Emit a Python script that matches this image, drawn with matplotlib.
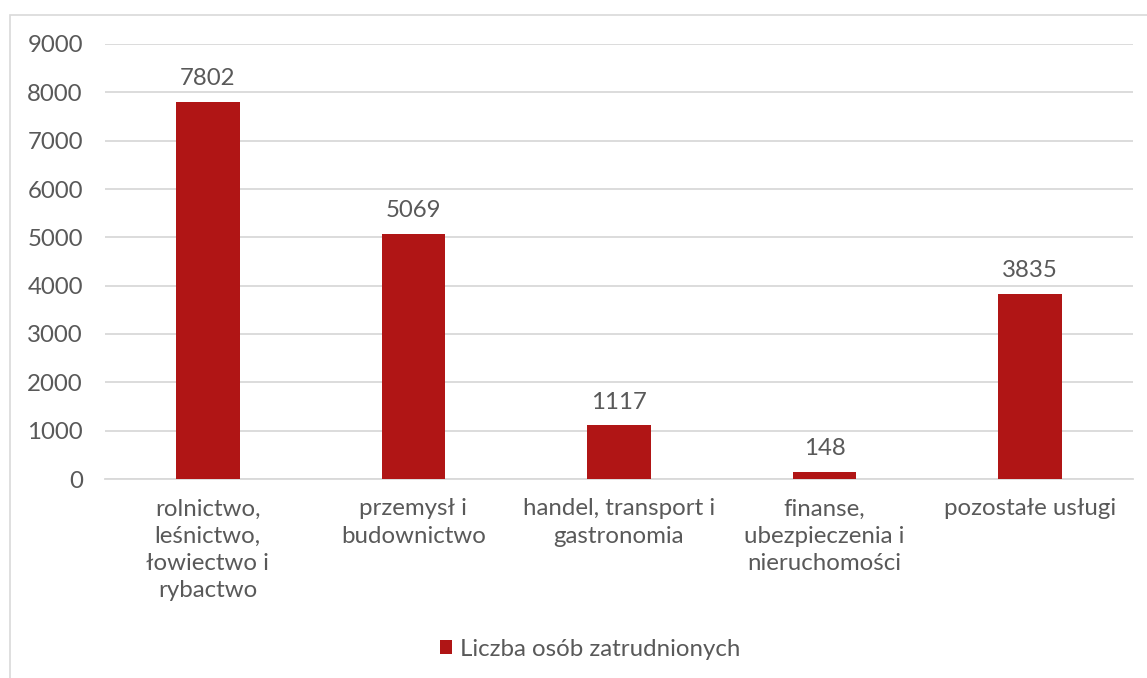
import matplotlib.pyplot as plt
from matplotlib.patches import Rectangle

plt.rcParams['font.family'] = ['Lato', 'DejaVu Sans']

categories = ['rolnictwo,\nleśnictwo,\nłowiectwo i\nrybactwo',
              'przemysł i\nbudownictwo',
              'handel, transport i\ngastronomia',
              'finanse,\nubezpieczenia i\nnieruchomości',
              'pozostałe usługi']
values = [7802, 5069, 1117, 148, 3835]
series_name = 'Liczba osób zatrudnionych'

bar_color = '#B01515'
text_color = '#595959'
grid_color = '#D9D9D9'
fs = 17.3

fig = plt.figure(figsize=(11.47, 6.78), dpi=100)
# outer chart border
fig.patches.append(Rectangle((10 / 1147, -0.1), 1.2, (678 - 15) / 678 + 0.1,
                             transform=fig.transFigure, fill=False,
                             edgecolor=grid_color, linewidth=1.2))

ax = fig.add_axes([105 / 1147, 199 / 678, 1028 / 1147, 435 / 678])
x = range(len(categories))
bars = ax.bar(x, values, width=0.31, color=bar_color, zorder=3,
              label=series_name)

ax.set_xlim(-0.5, len(categories) - 0.5)
ax.set_ylim(0, 9000)
ax.set_yticks(range(0, 9001, 1000))
ax.yaxis.grid(True, color=grid_color, linewidth=1.3)
ax.set_axisbelow(True)
for s in ['top', 'right', 'left']:
    ax.spines[s].set_visible(False)
ax.spines['bottom'].set_color(grid_color)
ax.spines['bottom'].set_linewidth(1.3)
ax.tick_params(axis='both', length=0, labelsize=fs, colors=text_color)
ax.tick_params(axis='y', pad=16)
ax.tick_params(axis='x', pad=14)
ax.set_xticks(list(x))
ax.set_xticklabels(categories, linespacing=1.37)

for b, v in zip(bars, values):
    ax.annotate(str(v), (b.get_x() + b.get_width() / 2, v),
                xytext=(0, 9), textcoords='offset points',
                ha='center', va='bottom', fontsize=fs, color=text_color)

leg = fig.legend(loc='center', bbox_to_anchor=(590 / 1147, 1 - 649 / 678),
                 frameon=False, fontsize=fs, handlelength=0.5,
                 handleheight=0.5, handletextpad=0.35)
for t in leg.get_texts():
    t.set_color(text_color)

fig.savefig('out.png', dpi=100)
